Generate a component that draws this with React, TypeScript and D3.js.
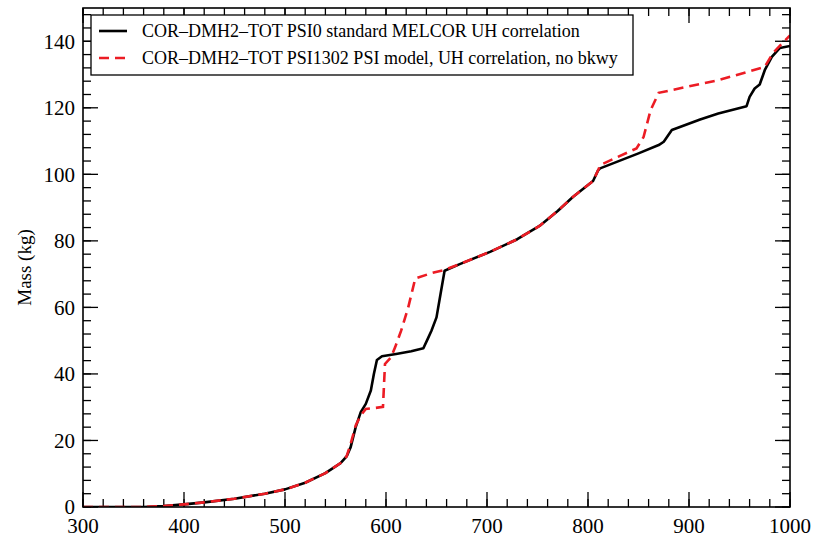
import React from "react";
import * as d3 from "d3";

// Time (s) and total hydrogen mass (kg) for the two MELCOR runs
const psi0Time = [300, 360, 380, 400, 420, 450, 480, 500, 520, 540, 555, 561, 565, 570, 575, 580, 585, 588, 591, 596, 610, 625, 637, 642, 645, 650, 654, 658, 673, 703, 730, 752, 770, 785, 800, 805, 810, 812, 850, 870, 875, 883, 911, 929, 957, 960, 965, 970, 975, 982, 990, 1000];
const psi0Mass = [0, 0, 0.3, 0.8, 1.4, 2.5, 4.0, 5.3, 7.3, 10.2, 13.2, 15.2, 18, 24, 28.5, 31, 35, 40, 44.2, 45.3, 46, 46.8, 47.7, 51, 53, 57, 64, 71, 73, 76.7, 80.5, 84.5, 89, 93.2, 96.8, 98, 101.2, 101.8, 106.3, 108.8, 109.8, 113.3, 116.5, 118.3, 120.5, 123.3, 125.8, 127, 131.3, 135.3, 138, 138.6];

const psi1302Time = [300, 360, 380, 400, 420, 450, 480, 500, 520, 540, 555, 561, 565, 570, 575, 580, 590, 597, 599, 605, 609, 615, 622, 629, 645, 657, 673, 703, 730, 752, 770, 785, 800, 805, 810, 812, 848, 855, 862, 870, 929, 975, 983, 1000];
const psi1302Mass = [0, 0, 0.3, 0.8, 1.4, 2.5, 4.0, 5.3, 7.3, 10.2, 13.2, 15.2, 19, 24.5, 27.5, 29.5, 29.8, 30.1, 43, 45, 48, 53, 60, 68.7, 70.3, 71.2, 73, 76.7, 80.5, 84.5, 89, 93.2, 96.8, 98, 101.2, 102.8, 107.8, 111.2, 119.3, 124.5, 128.3, 132.3, 136.4, 141.8];

const seriesLabels = [
  "COR\u2013DMH2\u2013TOT PSI0 standard MELCOR UH correlation",
  "COR\u2013DMH2\u2013TOT PSI1302 PSI model, UH correlation, no bkwy",
];
const xTicks = [300, 400, 500, 600, 700, 800, 900, 1000];
const yTicks = [0, 20, 40, 60, 80, 100, 120, 140];
const yLabel = "Mass (kg)";

const W = 814;
const H = 537;
const M = { left: 83, right: 24, top: 8, bottom: 30 };
const FONT = "'Liberation Serif', serif";

export default function App() {
  const x = d3.scaleLinear().domain([300, 1000]).range([M.left, W - M.right]);
  const y = d3.scaleLinear().domain([0, 150]).range([H - M.bottom, M.top]);
  const line = d3
    .line<[number, number]>()
    .x((d) => x(d[0]))
    .y((d) => y(d[1]));

  const black = psi0Time.map((t, i) => [t, psi0Mass[i]] as [number, number]);
  const red = psi1302Time.map((t, i) => [t, psi1302Mass[i]] as [number, number]);

  const xMinor = d3.range(300, 1001, 20);
  const yMinor = d3.range(0, 151, 4);
  const x0 = x(300), x1 = x(1000), y0 = y(0), y1 = y(150);

  return (
    <svg width={W} height={H} style={{ position: "absolute", left: 0, top: 0, background: "#fff" }}>
      <defs>
        <clipPath id="plotArea">
          <rect x={x0} y={y1} width={x1 - x0} height={y0 - y1} />
        </clipPath>
      </defs>
      {/* minor and major ticks on all four sides, pointing inward */}
      <g stroke="#000" strokeWidth={1.3}>
        {xMinor.map((v) => (
          <g key={"xm" + v}>
            <line x1={x(v)} x2={x(v)} y1={y0} y2={y0 - 8} />
            <line x1={x(v)} x2={x(v)} y1={y1} y2={y1 + 8} />
          </g>
        ))}
        {yMinor.map((v) => (
          <g key={"ym" + v}>
            <line x1={x0} x2={x0 + 8} y1={y(v)} y2={y(v)} />
            <line x1={x1} x2={x1 - 8} y1={y(v)} y2={y(v)} />
          </g>
        ))}
        {xTicks.map((v) => (
          <g key={"xM" + v}>
            <line x1={x(v)} x2={x(v)} y1={y0} y2={y0 - 15} />
            <line x1={x(v)} x2={x(v)} y1={y1} y2={y1 + 15} />
          </g>
        ))}
        {yTicks.map((v) => (
          <g key={"yM" + v}>
            <line x1={x0} x2={x0 + 15} y1={y(v)} y2={y(v)} />
            <line x1={x1} x2={x1 - 15} y1={y(v)} y2={y(v)} />
          </g>
        ))}
      </g>
      <g clipPath="url(#plotArea)" fill="none">
        <path d={line(black) ?? ""} stroke="#000" strokeWidth={2.6} strokeLinejoin="round" />
        <path d={line(red) ?? ""} stroke="#ec1c24" strokeWidth={2.6} strokeDasharray="10,6" />
      </g>
      <rect x={x0} y={y1} width={x1 - x0} height={y0 - y1} fill="none" stroke="#000" strokeWidth={1.6} />
      {/* tick labels */}
      <g fontFamily={FONT} fontSize={21} fill="#000">
        {xTicks.map((v) => (
          <text key={"xl" + v} x={x(v)} y={533} textAnchor="middle">{v}</text>
        ))}
        {yTicks.map((v) => (
          <text key={"yl" + v} x={75} y={y(v)} dy="0.35em" textAnchor="end">{v}</text>
        ))}
      </g>
      <text
        transform={`translate(31,${y(72)}) rotate(-90)`}
        textAnchor="middle"
        fontFamily={FONT}
        fontSize={19}
      >
        {yLabel}
      </text>
      {/* legend */}
      <g>
        <rect x={91} y={15} width={542} height={60} fill="#fff" stroke="#000" strokeWidth={1.3} />
        <line x1={99} x2={127} y1={31} y2={31} stroke="#000" strokeWidth={2.6} />
        <line x1={99} x2={127} y1={58} y2={58} stroke="#ec1c24" strokeWidth={2.6} strokeDasharray="10,6" />
        <text x={142} y={31} dy="0.35em" fontFamily={FONT} fontSize={18}>{seriesLabels[0]}</text>
        <text x={142} y={58} dy="0.35em" fontFamily={FONT} fontSize={18}>{seriesLabels[1]}</text>
      </g>
    </svg>
  );
}
